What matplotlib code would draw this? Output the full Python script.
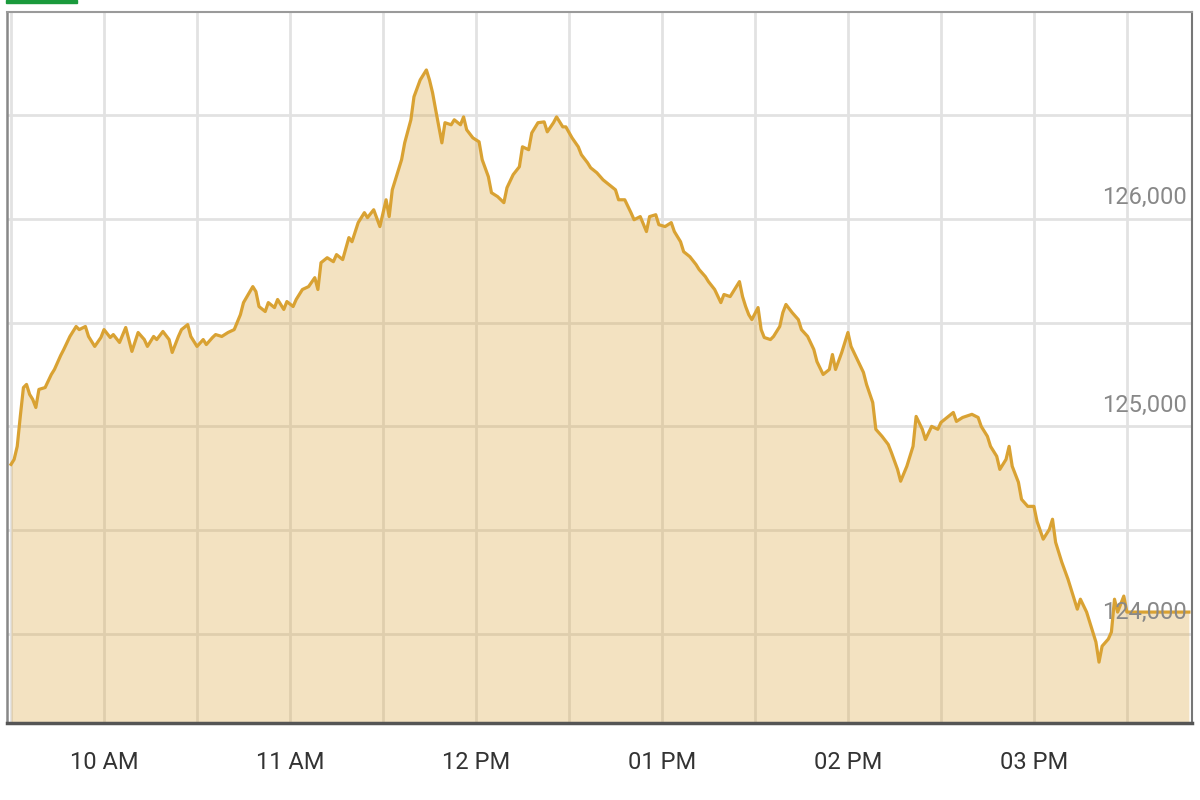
import matplotlib
matplotlib.use("Agg")
import matplotlib.pyplot as plt
import matplotlib.dates as mdates
import pandas as pd
from matplotlib.patches import Rectangle
from matplotlib.ticker import MultipleLocator, NullFormatter

plt.rcParams['font.family'] = ['Liberation Sans Narrow', 'Roboto', 'DejaVu Sans']

# intraday index level, minutes after 09:00
minutes = [30, 31, 32, 33, 34, 35, 36, 37, 38, 39, 41, 43, 44, 46, 47, 49, 51, 52, 54, 55,
           57, 59, 60, 62, 63, 65, 67, 68, 69, 71, 73, 74, 76, 77, 79, 81, 82, 84, 85, 87,
           88, 90, 92, 93, 95, 96, 98, 100, 102, 104, 105, 108, 109, 110, 112, 113, 115, 116, 118, 119,
           121, 122, 124, 126, 128, 129, 130, 132, 134, 135, 137, 139, 140, 142, 144, 145, 147, 149, 151, 152,
           153, 154, 156, 157, 159, 160, 162, 164, 165, 166, 167, 169, 170, 172, 173, 175, 176, 177, 179, 181,
           182, 184, 185, 187, 189, 190, 192, 194, 195, 197, 198, 200, 202, 203, 205, 206, 208, 209, 211, 213,
           214, 216, 217, 219, 221, 223, 225, 226, 228, 230, 231, 233, 235, 236, 238, 239, 241, 243, 244, 246,
           247, 249, 251, 252, 254, 255, 257, 259, 260, 262, 264, 265, 266, 267, 268, 269, 271, 272, 273, 275,
           276, 278, 279, 280, 282, 284, 285, 287, 289, 290, 292, 294, 295, 296, 298, 300, 301, 303, 305, 306,
           308, 309, 311, 313, 314, 316, 317, 319, 321, 322, 324, 325, 327, 329, 330, 332, 334, 335, 337, 338,
           340, 342, 343, 345, 346, 348, 349, 351, 352, 353, 355, 356, 358, 360, 361, 363, 365, 366, 367, 369,
           371, 372, 374, 375, 377, 379, 380, 381, 382, 384, 385, 386, 387, 389, 390, 410]

index_level = [124817, 124841, 124904, 125050, 125187, 125202, 125154, 125130, 125091, 125178,
               125187, 125250, 125274, 125341, 125370, 125433, 125481, 125466, 125481, 125433,
               125385, 125428, 125466, 125428, 125442, 125404, 125476, 125418, 125361, 125452,
               125418, 125385, 125433, 125418, 125457, 125418, 125356, 125433, 125466, 125490,
               125433, 125385, 125418, 125394, 125428, 125442, 125433, 125452, 125466, 125538,
               125596, 125673, 125649, 125577, 125553, 125596, 125572, 125611, 125563, 125601,
               125577, 125611, 125659, 125673, 125716, 125659, 125788, 125812, 125793, 125827,
               125803, 125909, 125889, 125981, 126029, 126005, 126043, 125962, 126091, 126010,
               126139, 126187, 126284, 126365, 126476, 126587, 126668, 126716, 126668, 126606,
               126524, 126365, 126462, 126452, 126476, 126452, 126490, 126428, 126389, 126370,
               126284, 126202, 126125, 126106, 126077, 126149, 126212, 126250, 126346, 126332,
               126413, 126462, 126466, 126418, 126462, 126490, 126442, 126442, 126389, 126346,
               126308, 126269, 126245, 126221, 126187, 126163, 126139, 126091, 126091, 126029,
               125995, 126010, 125938, 126010, 126019, 125971, 125962, 125981, 125938, 125889,
               125841, 125817, 125779, 125755, 125721, 125697, 125659, 125596, 125635, 125625,
               125673, 125697, 125625, 125577, 125538, 125514, 125572, 125466, 125428, 125418,
               125433, 125481, 125548, 125587, 125548, 125514, 125466, 125433, 125370, 125312,
               125250, 125274, 125346, 125274, 125356, 125452, 125385, 125322, 125260, 125202,
               125115, 124986, 124952, 124913, 124875, 124793, 124736, 124808, 124904, 125048,
               124986, 124937, 125000, 124986, 125019, 125043, 125067, 125024, 125043, 125048,
               125058, 125043, 125000, 124952, 124904, 124856, 124793, 124841, 124904, 124808,
               124731, 124649, 124615, 124615, 124543, 124457, 124505, 124553, 124442, 124346,
               124264, 124216, 124120, 124168, 124106, 124010, 123962, 123865, 123942, 123976,
               124010, 124168, 124106, 124183, 124106, 124106]

y_labels = [124000, 125000, 126000]

assert len(minutes) == len(index_level)

base = pd.Timestamp("2021-01-01 09:00")
times = [base + pd.Timedelta(minutes=m) for m in minutes]

fig = plt.figure(figsize=(12, 8), dpi=100)
ax = fig.add_axes([7 / 1200, 77 / 800, 1185 / 1200, 711 / 800])

line_col = "#d9a233"
ax.fill_between(times, index_level, 123000, color=line_col, alpha=0.3, lw=0, zorder=2)
ax.plot(times, index_level, color=line_col, lw=2.3, zorder=3)

ax.set_xlim(base + pd.Timedelta(minutes=28.7), base + pd.Timedelta(minutes=411))
ax.set_ylim(123572, 126995)

ax.xaxis.set_major_locator(mdates.HourLocator(byhour=range(10, 16)))
ax.xaxis.set_minor_locator(mdates.MinuteLocator(byminute=[0, 30]))
ax.xaxis.set_major_formatter(mdates.DateFormatter("%I %p"))
ax.yaxis.set_major_locator(MultipleLocator(500))
ax.yaxis.set_major_formatter(NullFormatter())

ax.grid(True, which="both", color="#e2e2e2", lw=2, zorder=1)
ax.set_axisbelow(True)
ax.tick_params(axis="x", which="both", length=0)
ax.tick_params(axis="x", pad=20, labelsize=17, labelcolor="#333333")
ax.tick_params(axis="y", length=0)

for v in y_labels:
    ax.annotate(f"{v:,}", xy=(1, v), xycoords=("axes fraction", "data"),
                xytext=(-4, 7), textcoords="offset points", ha="right", va="bottom",
                fontsize=17, color="#888888", zorder=4)

ax.spines["top"].set_color("#9a9a9a")
ax.spines["top"].set_linewidth(1.5)
ax.spines["left"].set_color("#888888")
ax.spines["left"].set_linewidth(1.8)
ax.spines["right"].set_color("#777777")
ax.spines["right"].set_linewidth(1.5)
ax.spines["bottom"].set_color("#555555")
ax.spines["bottom"].set_linewidth(2.5)

# green tab at top-left
fig.patches.append(Rectangle((6 / 1200, 797 / 800), 71 / 1200, 3 / 800,
                             transform=fig.transFigure, color="#1a9a3c", zorder=5))

fig.savefig("out.png", dpi=100)
